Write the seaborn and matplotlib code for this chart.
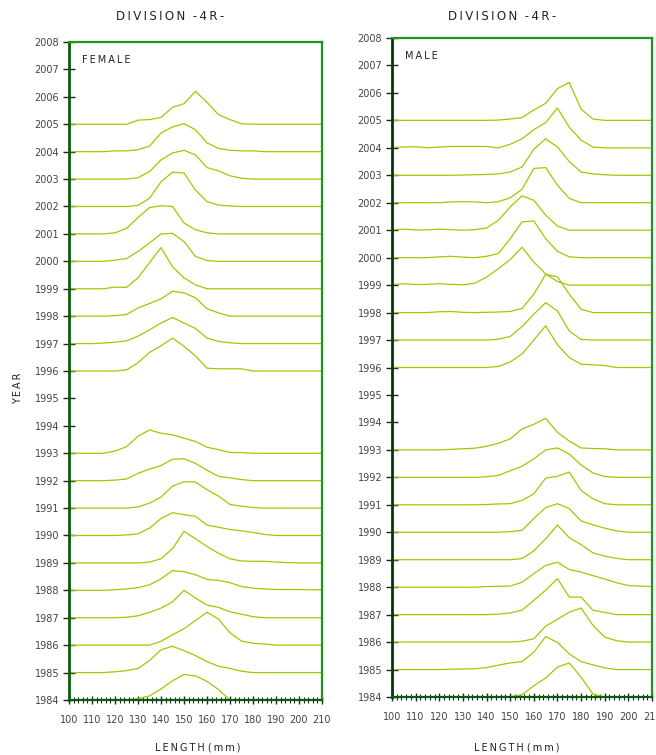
# length frequency ridge plot - division 4R

import numpy as np
import pandas as pd
import matplotlib
matplotlib.use('Agg')
import matplotlib.pyplot as plt
from matplotlib.ticker import MultipleLocator
import seaborn as sns

# length classes (mm)
lengths = [100, 105, 110, 115, 120, 125, 130, 135, 140, 145, 150, 155,
           160, 165, 170, 175, 180, 185, 190, 195, 200, 205, 210]

# relative frequency, in "year" units above each baseline
# FEMALE
f2005 = [0, 0, 0, 0, 0, 0, 0.15, 0.17, 0.25, 0.62, 0.75, 1.2, 0.8, 0.35, 0.17, 0.02, 0, 0, 0, 0, 0, 0, 0]
f2004 = [0, 0, 0, 0, 0.03, 0.03, 0.07, 0.2, 0.68, 0.9, 1.02, 0.8, 0.32, 0.12, 0.05, 0.03, 0.03, 0, 0, 0, 0, 0, 0]
f2003 = [0, 0, 0, 0, 0, 0, 0.05, 0.27, 0.7, 0.95, 1.05, 0.88, 0.42, 0.3, 0.12, 0.03, 0, 0, 0, 0, 0, 0, 0]
f2002 = [0, 0, 0, 0, 0, 0, 0.04, 0.3, 0.9, 1.25, 1.22, 0.6, 0.18, 0.05, 0.02, 0, 0, 0, 0, 0, 0, 0, 0]
f2001 = [0, 0, 0, 0, 0.04, 0.2, 0.6, 0.96, 1.03, 1.0, 0.4, 0.15, 0.04, 0, 0, 0, 0, 0, 0, 0, 0, 0, 0]
f2000 = [0, 0, 0, 0, 0.04, 0.1, 0.36, 0.67, 1.0, 1.02, 0.72, 0.18, 0.03, 0, 0, 0, 0, 0, 0, 0, 0, 0, 0]
f1999 = [0, 0, 0, 0, 0.06, 0.05, 0.4, 0.95, 1.5, 0.8, 0.4, 0.14, 0, 0, 0, 0, 0, 0, 0, 0, 0, 0, 0]
f1998 = [0, 0, 0, 0, 0.02, 0.06, 0.3, 0.46, 0.63, 0.91, 0.85, 0.67, 0.27, 0.12, 0, 0, 0, 0, 0, 0, 0, 0, 0]
f1997 = [0, 0, 0, 0.02, 0.05, 0.1, 0.27, 0.5, 0.75, 0.95, 0.75, 0.55, 0.2, 0.08, 0.03, 0, 0, 0, 0, 0, 0, 0, 0]
f1996 = [0, 0, 0, 0, 0, 0.04, 0.3, 0.68, 0.92, 1.2, 0.9, 0.55, 0.1, 0.08, 0.08, 0.08, 0, 0, 0, 0, 0, 0, 0]
f1993 = [0, 0, 0, 0, 0.08, 0.24, 0.62, 0.85, 0.73, 0.67, 0.55, 0.43, 0.22, 0.13, 0.03, 0.02, 0, 0, 0, 0, 0, 0, 0]
f1992 = [0, 0, 0, 0, 0.02, 0.06, 0.27, 0.42, 0.55, 0.78, 0.8, 0.63, 0.38, 0.16, 0.1, 0.04, 0, 0, 0, 0, 0, 0, 0]
f1991 = [0, 0, 0, 0, 0, 0, 0.04, 0.18, 0.4, 0.8, 0.96, 0.95, 0.67, 0.44, 0.13, 0.07, 0.02, 0, 0, 0, 0, 0, 0]
f1990 = [0, 0, 0, 0, 0, 0.02, 0.06, 0.27, 0.62, 0.83, 0.76, 0.7, 0.38, 0.3, 0.22, 0.17, 0.11, 0.04, 0, 0, 0, 0, 0]
f1989 = [0, 0, 0, 0, 0, 0, 0, 0.03, 0.15, 0.52, 1.15, 0.88, 0.6, 0.35, 0.15, 0.07, 0.06, 0.06, 0.03, 0.01, 0, 0, 0]
f1988 = [0, 0, 0, 0, 0.02, 0.05, 0.1, 0.2, 0.42, 0.72, 0.68, 0.57, 0.4, 0.36, 0.28, 0.14, 0.08, 0.05, 0.03, 0.03, 0.03, 0.02, 0.02]
f1987 = [0, 0, 0, 0, 0, 0.02, 0.07, 0.2, 0.35, 0.58, 1.0, 0.72, 0.46, 0.38, 0.22, 0.13, 0.04, 0, 0, 0, 0, 0, 0]
f1986 = [0, 0, 0, 0, 0, 0, 0, 0, 0.14, 0.38, 0.6, 0.9, 1.2, 0.95, 0.45, 0.15, 0.07, 0.04, 0, 0, 0, 0, 0]
f1985 = [0, 0, 0, 0, 0.03, 0.07, 0.15, 0.44, 0.83, 0.96, 0.8, 0.62, 0.4, 0.23, 0.15, 0.05, 0, 0, 0, 0, 0, 0, 0]
f1984 = [0, 0, 0, 0, 0, 0, 0.05, 0.15, 0.4, 0.7, 0.93, 0.88, 0.68, 0.38, 0, 0, 0, 0, 0, 0, 0, 0, 0]

# MALE
m2005 = [0, 0, 0, 0, 0, 0, 0, 0, 0, 0.01, 0.05, 0.1, 0.38, 0.62, 1.16, 1.38, 0.41, 0.05, 0, 0, 0, 0, 0]
m2004 = [0.01, 0.03, 0.04, 0, 0.03, 0.05, 0.05, 0.05, 0.05, 0, 0.13, 0.33, 0.66, 0.92, 1.45, 0.75, 0.28, 0.03, 0, 0, 0, 0, 0]
m2003 = [0, 0, 0, 0, 0, 0, 0.01, 0.02, 0.03, 0.05, 0.12, 0.3, 0.95, 1.33, 1.03, 0.5, 0.12, 0.05, 0.02, 0, 0, 0, 0]
m2002 = [0, 0, 0, 0, 0, 0.03, 0.04, 0.03, 0, 0.04, 0.18, 0.49, 1.25, 1.28, 0.64, 0.16, 0, 0, 0, 0, 0, 0, 0]
m2001 = [0.01, 0.04, 0.01, 0.01, 0.04, 0.02, 0, 0.02, 0.08, 0.36, 0.85, 1.25, 1.09, 0.55, 0.15, 0, 0, 0, 0, 0, 0, 0, 0]
m2000 = [0, 0, 0, 0, 0.03, 0.05, 0.02, 0, 0.05, 0.15, 0.69, 1.3, 1.34, 0.69, 0.23, 0.03, 0, 0, 0, 0, 0, 0, 0]
m1999 = [0.02, 0.05, 0.02, 0.03, 0.05, 0.03, 0.01, 0.07, 0.29, 0.6, 0.93, 1.38, 0.84, 0.41, 0.13, 0, 0, 0, 0, 0, 0, 0, 0]
m1998 = [0, 0, 0, 0, 0.03, 0.04, 0.01, 0, 0.01, 0.02, 0.04, 0.15, 0.67, 1.39, 1.3, 0.67, 0.12, 0, 0, 0, 0, 0, 0]
m1997 = [0, 0, 0, 0, 0, 0, 0, 0, 0, 0.03, 0.13, 0.49, 0.94, 1.36, 1.06, 0.33, 0.02, 0, 0, 0, 0, 0, 0]
m1996 = [0, 0, 0, 0, 0, 0, 0, 0, 0, 0.04, 0.2, 0.49, 1.0, 1.52, 0.83, 0.36, 0.12, 0.1, 0.07, 0, 0, 0, 0]
m1993 = [0, 0, 0, 0, 0, 0.02, 0.04, 0.06, 0.13, 0.24, 0.4, 0.76, 0.93, 1.15, 0.64, 0.32, 0.07, 0.05, 0.04, 0, 0, 0, 0]
m1992 = [0, 0, 0, 0, 0, 0, 0, 0, 0.02, 0.07, 0.24, 0.4, 0.67, 1.0, 1.07, 0.85, 0.45, 0.16, 0.03, 0, 0, 0, 0]
m1991 = [0, 0, 0, 0, 0, 0, 0, 0, 0.01, 0.03, 0.04, 0.16, 0.4, 0.97, 1.04, 1.19, 0.52, 0.22, 0.04, 0, 0, 0, 0]
m1990 = [0, 0, 0, 0, 0, 0, 0, 0, 0, 0, 0.02, 0.07, 0.5, 0.9, 1.04, 0.86, 0.41, 0.27, 0.15, 0.05, 0, 0, 0]
m1989 = [0, 0, 0, 0, 0, 0, 0, 0, 0, 0, 0, 0.04, 0.32, 0.76, 1.26, 0.8, 0.55, 0.25, 0.13, 0.05, 0, 0, 0]
m1988 = [0, 0, 0, 0, 0, 0, 0, 0, 0.02, 0.03, 0.04, 0.18, 0.49, 0.79, 0.91, 0.64, 0.55, 0.42, 0.3, 0.16, 0.06, 0.04, 0.02]
m1987 = [0, 0, 0, 0, 0, 0, 0, 0, 0, 0.02, 0.06, 0.16, 0.52, 0.89, 1.31, 0.64, 0.64, 0.16, 0.08, 0, 0, 0, 0]
m1986 = [0, 0, 0, 0, 0, 0, 0, 0, 0, 0, 0, 0.03, 0.12, 0.58, 0.83, 1.09, 1.24, 0.61, 0.18, 0.05, 0, 0, 0]
m1985 = [0, 0, 0, 0, 0, 0.01, 0.02, 0.03, 0.07, 0.16, 0.24, 0.29, 0.63, 1.2, 0.99, 0.57, 0.29, 0.17, 0.06, 0, 0, 0, 0]
m1984 = [0, 0, 0, 0, 0, 0, 0, 0, 0, 0, 0.01, 0.08, 0.41, 0.69, 1.09, 1.24, 0.72, 0.11, 0, 0, 0, 0, 0]

female = {2005: f2005, 2004: f2004, 2003: f2003, 2002: f2002, 2001: f2001,
          2000: f2000, 1999: f1999, 1998: f1998, 1997: f1997, 1996: f1996,
          1993: f1993, 1992: f1992, 1991: f1991, 1990: f1990, 1989: f1989,
          1988: f1988, 1987: f1987, 1986: f1986, 1985: f1985, 1984: f1984}
male = {2005: m2005, 2004: m2004, 2003: m2003, 2002: m2002, 2001: m2001,
        2000: m2000, 1999: m1999, 1998: m1998, 1997: m1997, 1996: m1996,
        1993: m1993, 1992: m1992, 1991: m1991, 1990: m1990, 1989: m1989,
        1988: m1988, 1987: m1987, 1986: m1986, 1985: m1985, 1984: m1984}

year_ticks = list(range(1984, 2009))
length_ticks = list(range(100, 211, 10))

LINE = '#99cc00'
TXT = '#444444'
TS = '\u2009'  # thin space, for the letter-spaced labels


def spaced(s):
    return TS.join(s)


sns.set_style('white')
plt.rcParams['font.family'] = ['DejaVu Sans']


def to_long(d):
    rows = []
    for yr, vals in d.items():
        for x, v in zip(lengths, vals):
            rows.append({'year': yr, 'length': x, 'pos': yr + v})
    return pd.DataFrame(rows)


fig = plt.figure(figsize=(6.56, 7.55), dpi=100)
ax1 = fig.add_axes([69/656, 1-700/755, (322-69)/656, (700-42)/755])
ax2 = fig.add_axes([392/656, 1-697/755, (652-392)/656, (697-38)/755])

for ax, d, lab, leftcol in [(ax1, female, 'FEMALE', '#0a5c0a'),
                             (ax2, male, 'MALE', '#003a00')]:
    sns.lineplot(data=to_long(d), x='length', y='pos', units='year',
                 estimator=None, color=LINE, lw=0.9, legend=False, ax=ax)
    ax.set_xlim(100, 210)
    ax.set_ylim(1984, 2008)
    ax.set_xticks(length_ticks)
    ax.xaxis.set_minor_locator(MultipleLocator(2))
    ax.set_yticks(year_ticks)
    ax.set_yticklabels([str(y) for y in year_ticks])
    ax.set_xlabel('')
    ax.set_ylabel('')
    for s in ['top', 'right', 'bottom']:
        ax.spines[s].set_color('#1e961e')
        ax.spines[s].set_linewidth(1.6)
    ax.spines['bottom'].set_color('#0a5c0a')
    ax.spines['left'].set_color(leftcol)
    ax.spines['left'].set_linewidth(2.0)
    ax.tick_params(axis='y', direction='inout', length=8, width=1,
                   color='#222222', labelsize=7, labelcolor=TXT, pad=3, left=True)
    ax.tick_params(axis='x', which='major', direction='inout', length=6, width=1,
                   color='#222222', labelsize=7, labelcolor=TXT, pad=8, bottom=True)
    ax.tick_params(axis='x', which='minor', direction='inout', length=4, width=0.8,
                   color='#222222', bottom=True)
    ax.text(0.05, 0.972, spaced(lab), transform=ax.transAxes, fontsize=7,
            color='#222222', va='center', ha='left')

title = spaced('DIVISION') + '  ' + spaced('-4R-')
xlab = spaced('LENGTH') + ' ' + spaced('(mm)')
fig.text(170/656, 1-16/755, title, fontsize=8.5,
         color='#222222', ha='center', va='center')
fig.text(502/656, 1-16/755, title, fontsize=8.5,
         color='#222222', ha='center', va='center')
fig.text(198/656, 1-747/755, xlab, fontsize=7,
         color='#222222', ha='center', va='center')
fig.text(517/656, 1-747/755, xlab, fontsize=7,
         color='#222222', ha='center', va='center')
fig.text(18/656, 1-388/755, spaced('YEAR'), fontsize=7, rotation=90,
         color='#222222', ha='center', va='center')

fig.savefig('out.png', dpi=100, facecolor='white')
